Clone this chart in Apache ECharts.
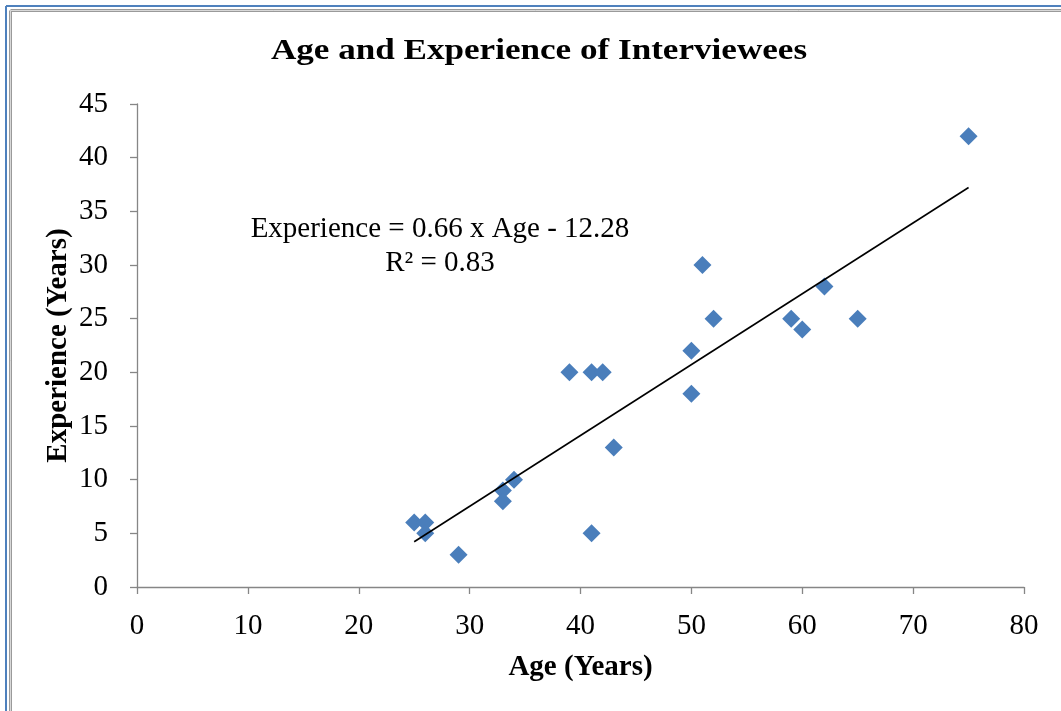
<!DOCTYPE html>
<html>
<head>
<meta charset="utf-8">
<script src="https://cdn.jsdelivr.net/npm/echarts@6/dist/echarts.min.js"></script>
<style>
  html, body { margin: 0; padding: 0; background: #ffffff; }
  #chart { width: 1061px; height: 711px; }
</style>
</head>
<body>
<div id="chart"></div>
<script>
// Interviewee ages (years) and years of experience
const ages       = [25, 26, 26, 29, 33, 33, 34, 39, 41, 42, 41, 43, 50, 50, 51, 52, 59, 60, 62, 65, 75];
const experience = [ 6,  6,  5,  3,  9,  8, 10, 20, 20, 20,  5, 13, 22, 18, 30, 25, 25, 24, 28, 25, 42];

// Linear fit reported on the chart
const slope = 0.66;
const intercept = -12.28;
const rSquared = 0.83;

const xTicks = { min: 0, max: 80, interval: 10 };
const yTicks = { min: 0, max: 45, interval: 5 };

const points = ages.map((a, i) => [a, experience[i]]);
const fitFrom = Math.min(...ages);
const fitTo = Math.max(...ages);
const fitLine = [fitFrom, fitTo].map(a => [a, slope * a + intercept]);

const serif = '"Liberation Serif", "Times New Roman", serif';
const axisGray = '#868686';
const labelSize = 29;

const chart = echarts.init(document.getElementById('chart'), null, { renderer: 'canvas' });

chart.setOption({
  backgroundColor: '#ffffff',
  animation: false,
  grid: { left: 137, right: 37, top: 104, bottom: 124, containLabel: false },
  xAxis: {
    type: 'value',
    min: xTicks.min, max: xTicks.max, interval: xTicks.interval,
    name: 'Age (Years)',
    nameLocation: 'middle',
    nameGap: 66,
    nameMoveOverlap: false,
    nameTextStyle: { fontFamily: serif, fontWeight: 'bold', fontSize: labelSize, color: '#000' },
    axisLine: { show: true, lineStyle: { color: axisGray, width: 1.3 } },
    axisTick: { show: true, length: 7, lineStyle: { color: axisGray, width: 1.3 } },
    axisLabel: { fontFamily: serif, fontSize: labelSize, color: '#000', margin: 25 },
    splitLine: { show: false }
  },
  yAxis: {
    type: 'value',
    min: yTicks.min, max: yTicks.max, interval: yTicks.interval,
    name: 'Experience (Years)',
    nameLocation: 'middle',
    nameGap: 64,
    nameMoveOverlap: false,
    nameRotate: 90,
    nameTextStyle: { fontFamily: serif, fontWeight: 'bold', fontSize: labelSize, color: '#000' },
    axisLine: { show: true, lineStyle: { color: axisGray, width: 1.3 } },
    axisTick: { show: true, length: 7, lineStyle: { color: axisGray, width: 1.3 } },
    axisLabel: { fontFamily: serif, fontSize: labelSize, color: '#000', margin: 29 },
    splitLine: { show: false }
  },
  graphic: [
    // page frame: blue outer rule, grey double rule inside
    { type: 'line', shape: { x1: 6, y1: 6, x2: 6, y2: 711 }, style: { stroke: '#4f81bd', lineWidth: 2 } },
    { type: 'line', shape: { x1: 6, y1: 6, x2: 1061, y2: 6 }, style: { stroke: '#4f81bd', lineWidth: 2 } },
    { type: 'line', shape: { x1: 10.5, y1: 10.5, x2: 10.5, y2: 711 }, style: { stroke: '#9a9a9a', lineWidth: 3 } },
    { type: 'line', shape: { x1: 10.5, y1: 10.5, x2: 1061, y2: 10.5 }, style: { stroke: '#9a9a9a', lineWidth: 3 } },
    { type: 'line', shape: { x1: 10.5, y1: 10.5, x2: 10.5, y2: 711 }, style: { stroke: '#d8d8d8', lineWidth: 1 } },
    { type: 'line', shape: { x1: 10.5, y1: 10.5, x2: 1061, y2: 10.5 }, style: { stroke: '#d8d8d8', lineWidth: 1 } },
    // chart title (set slightly wide)
    {
      type: 'text', x: 539, y: 51, scaleX: 1.17,
      style: {
        text: 'Age and Experience of Interviewees',
        font: 'bold 30px ' + serif,
        fill: '#000',
        align: 'center',
        verticalAlign: 'middle'
      }
    },
    // fit equation
    {
      type: 'text', x: 440, y: 246,
      style: {
        text: 'Experience = 0.66 x Age - 12.28\nR² = ' + rSquared.toFixed(2),
        font: '29px ' + serif,
        fill: '#000',
        align: 'center',
        verticalAlign: 'middle',
        lineHeight: 34
      }
    }
  ],
  series: [
    {
      type: 'scatter',
      data: points,
      symbol: 'diamond',
      symbolSize: 18,
      itemStyle: { color: '#4a7ebb', opacity: 1 },
      z: 2
    },
    {
      type: 'line',
      data: fitLine,
      symbol: 'none',
      lineStyle: { color: '#000', width: 1.6 },
      z: 3
    }
  ]
});
</script>
</body>
</html>
